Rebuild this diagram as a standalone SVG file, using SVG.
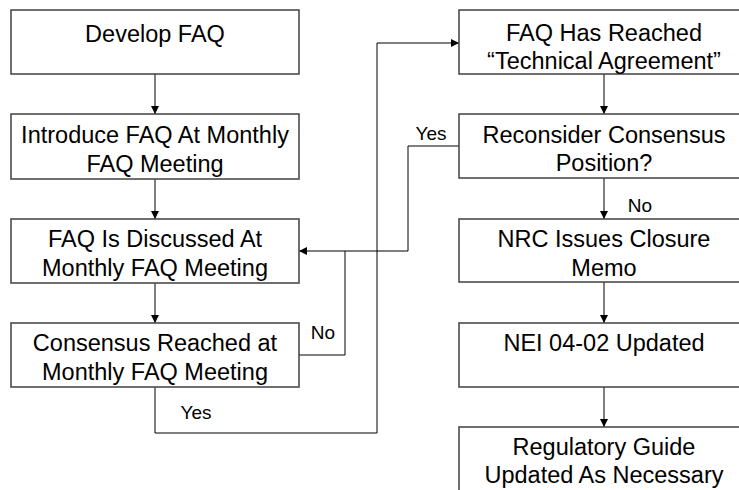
<svg xmlns="http://www.w3.org/2000/svg" width="739" height="490" viewBox="0 0 739 490">
<defs>
<marker id="ah" viewBox="0 0 10 10" refX="10" refY="5" markerWidth="8" markerHeight="8" markerUnits="userSpaceOnUse" orient="auto">
<path d="M0,0 L10,5 L0,10 z" fill="#000"/>
</marker>
<style>
.box{fill:#fff;stroke:#404040;stroke-width:1.5}
.t{font-family:"Liberation Sans",Arial,sans-serif;font-size:23.5px;fill:#000;text-anchor:middle}
.lbl{font-family:"Liberation Sans",Arial,sans-serif;font-size:19px;fill:#000;text-anchor:middle}
.c{fill:none;stroke:#000;stroke-width:1}
.ca{fill:none;stroke:#000;stroke-width:1;marker-end:url(#ah)}
</style>
</defs>
<rect width="739" height="490" fill="#fff"/>
<g id="connectors">
<path class="ca" d="M155,74 V114"/>
<path class="ca" d="M155,179 V219"/>
<path class="ca" d="M155,283 V323"/>
<path class="c" d="M299,355 H345 V251"/>
<path class="ca" d="M459,146 H408 V251 H299"/>
<path class="ca" d="M155,387 V433 H377 V43 H459"/>
<path class="ca" d="M604,74 V114"/>
<path class="ca" d="M604,178 V219"/>
<path class="ca" d="M604,282 V323"/>
<path class="ca" d="M604,387 V427"/>
<text class="lbl" x="323" y="339">No</text>
<text class="lbl" x="196" y="419">Yes</text>
<text class="lbl" x="431" y="140">Yes</text>
<text class="lbl" x="640" y="212">No</text>
</g>
<g id="n1"><rect class="box" x="11" y="10" width="288" height="64"/><text class="t" x="155" y="42">Develop FAQ</text></g>
<g id="n2"><rect class="box" x="11" y="114" width="288" height="65"/><text class="t" x="155" y="143">Introduce FAQ At Monthly</text><text class="t" x="155" y="172">FAQ Meeting</text></g>
<g id="n3"><rect class="box" x="11" y="219" width="288" height="64"/><text class="t" x="155" y="247">FAQ Is Discussed At</text><text class="t" x="155" y="276">Monthly FAQ Meeting</text></g>
<g id="n4"><rect class="box" x="11" y="323" width="288" height="64"/><text class="t" x="155" y="351">Consensus Reached at</text><text class="t" x="155" y="380">Monthly FAQ Meeting</text></g>
<g id="n5"><rect class="box" x="459" y="10" width="290" height="64"/><text class="t" x="604" y="41">FAQ Has Reached</text><text class="t" x="604" y="69">“Technical Agreement”</text></g>
<g id="n6"><rect class="box" x="459" y="114" width="290" height="64"/><text class="t" x="604" y="143">Reconsider Consensus</text><text class="t" x="604" y="171">Position?</text></g>
<g id="n7"><rect class="box" x="459" y="219" width="290" height="63"/><text class="t" x="604" y="247">NRC Issues Closure</text><text class="t" x="604" y="276">Memo</text></g>
<g id="n8"><rect class="box" x="459" y="323" width="290" height="64"/><text class="t" x="604" y="351">NEI 04-02 Updated</text></g>
<g id="n9"><rect class="box" x="459" y="427" width="290" height="80"/><text class="t" x="604" y="455">Regulatory Guide</text><text class="t" x="604" y="483">Updated As Necessary</text></g>
</svg>
